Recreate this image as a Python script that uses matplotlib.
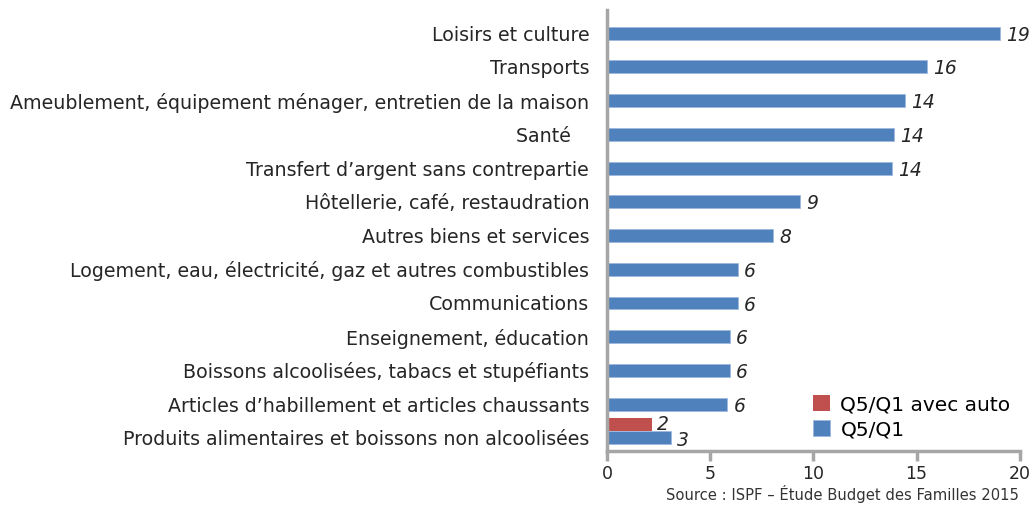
import matplotlib.pyplot as plt
import numpy as np

# donnees
categories = [
    "Loisirs et culture",
    "Transports",
    "Ameublement, équipement ménager, entretien de la maison",
    "Santé   ",
    "Transfert d’argent sans contrepartie",
    "Hôtellerie, café, restaudration",
    "Autres biens et services",
    "Logement, eau, électricité, gaz et autres combustibles",
    "Communications",
    "Enseignement, éducation",
    "Boissons alcoolisées, tabacs et stupéfiants",
    "Articles d’habillement et articles chaussants",
    "Produits alimentaires et boissons non alcoolisées",
]
q5q1 = [19.05, 15.5, 14.45, 13.9, 13.8, 9.35, 8.05, 6.33, 6.33, 5.95, 5.95, 5.83, 3.07]
q5q1_labels = ["19", "16", "14", "14", "14", "9", "8", "6", "6", "6", "6", "6", "3"]
# seulement pour les produits alimentaires
q5q1_auto = [2.16]
q5q1_auto_labels = ["2"]

blue = "#4F81BD"
red = "#C0504D"
grey = "#A6A6A6"
txt = "#262626"

fig = plt.figure(figsize=(10.31, 5.05), dpi=100)
ax = fig.add_axes([0.589, 0.107, 0.400, 0.873])

y = np.arange(len(categories))
h = 0.385
ax.barh(y, q5q1, height=h, color=blue, edgecolor="#9DB9DE", linewidth=0.6, label="Q5/Q1")
y_auto = y[-1:] - h
ax.barh(y_auto, q5q1_auto, height=h, color=red, label="Q5/Q1 avec auto")

for yi, v, lab in zip(y, q5q1, q5q1_labels):
    ax.annotate(lab, (v, yi), xytext=(4.5, -1.5), textcoords="offset points",
                va="center", ha="left", fontsize=13.5, style="italic", color=txt)
for yi, v, lab in zip(y_auto, q5q1_auto, q5q1_auto_labels):
    ax.annotate(lab, (v, yi), xytext=(4, 0), textcoords="offset points",
                va="center", ha="left", fontsize=13.5, style="italic", color=txt)

ax.set_yticks(y)
ax.set_yticklabels(categories, fontsize=13.7, color=txt)
ax.tick_params(axis="y", length=0, pad=13)
ax.set_xlim(0, 20)
ax.set_ylim(12.385, -0.68)
ax.set_xticks([0, 5, 10, 15, 20])
ax.tick_params(axis="x", length=7, width=2.5, color=grey, labelsize=12.5, labelcolor=txt, pad=3)

for s in ["top", "right"]:
    ax.spines[s].set_visible(False)
for s in ["left", "bottom"]:
    ax.spines[s].set_color(grey)
    ax.spines[s].set_linewidth(2.5)

handles, labels = ax.get_legend_handles_labels()
ax.legend(handles[::-1], labels[::-1], loc="lower right", bbox_to_anchor=(1.012, -0.005),
          frameon=False, fontsize=14.5, handlelength=0.85, handleheight=0.85,
          handletextpad=0.5, labelspacing=0.3, borderaxespad=0.3)

fig.text(0.646, 0.004, "Source : ISPF – Étude Budget des Familles 2015",
         fontsize=10.6, color="#333333", ha="left", va="bottom")

fig.savefig("out.png", dpi=100)
